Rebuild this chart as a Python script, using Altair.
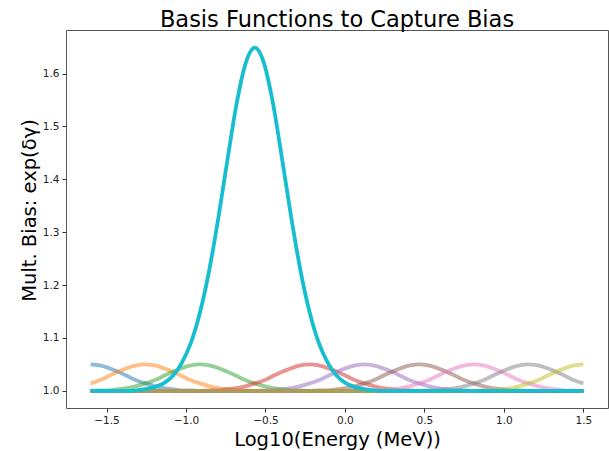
import altair as alt
import pandas as pd

# Centres of the basis functions, in drawing order
CENTERS = [-1.600, -1.256, -0.911, -0.222, 0.122, 0.467, 0.811, 1.156, 1.500, -0.567]
SERIES = ["b0", "b1", "b2", "b3", "b4", "b5", "b6", "b7", "b8", "b9"]
COLORS = ["#1f77b4", "#ff7f0e", "#2ca02c", "#d62728", "#9467bd",
          "#8c564b", "#e377c2", "#7f7f7f", "#bcbd22", "#17becf"]
BIG = "b9"

# half-profiles (value at offset k*STEP from the centre)
STEP = 0.0574
SMALL_HALF = [1.050, 1.048, 1.043, 1.036, 1.028, 1.020, 1.014, 1.009,
              1.005, 1.003, 1.001, 1.001, 1.000, 1.000, 1.000, 1.000]
BIG_HALF = [1.649, 1.620, 1.543, 1.437, 1.327, 1.228, 1.149, 1.091,
            1.053, 1.028, 1.014, 1.007, 1.003, 1.001, 1.000, 1.000]

X_MIN, X_MAX = -1.6, 1.5
X_TICKS = [-1.5, -1.0, -0.5, 0.0, 0.5, 1.0, 1.5]
Y_TICKS = [1.0, 1.1, 1.2, 1.3, 1.4, 1.5, 1.6]

rows = []
for s, c in zip(SERIES, CENTERS):
    prof = BIG_HALF if s == BIG else SMALL_HALF
    n = len(prof) - 1
    pts = []
    for k in range(-n, n + 1):
        x = c + k * STEP
        if x < X_MIN - 0.006 or x > X_MAX + 0.006:
            continue
        x = min(max(x, X_MIN), X_MAX)
        pts.append((x, prof[abs(k)]))
    if pts[0][0] > X_MIN + 1e-9:
        pts.insert(0, (X_MIN, 1.0))
    if pts[-1][0] < X_MAX - 1e-9:
        pts.append((X_MAX, 1.0))
    for x, y in pts:
        rows.append({"series": s, "x": x, "y": y})

df = pd.DataFrame(rows)
df_small = df[df.series != BIG]
df_big = df[df.series == BIG]

xs = alt.X("x:Q", scale=alt.Scale(domain=[-1.755, 1.655], nice=False, zero=False),
           axis=alt.Axis(values=X_TICKS,
                         labelExpr="replace(format(datum.value, '.1f'), '-', '\u2212')",
                         title="Log10(Energy (MeV))", titleY=37,
                         titleBaseline="alphabetic"))
ys = alt.Y("y:Q", scale=alt.Scale(domain=[0.9675, 1.6825], nice=False, zero=False),
           axis=alt.Axis(values=Y_TICKS, format=".1f",
                         title="Mult. Bias: exp(\u03b4\u03b3)", titleX=-31, titleY=180,
                         titleAngle=-90, titleBaseline="alphabetic", titleAlign="center"))
col = alt.Color("series:N", scale=alt.Scale(domain=SERIES, range=COLORS), legend=None)

small = alt.Chart(df_small).mark_line(strokeWidth=3.8, opacity=0.5, interpolate="monotone").encode(
    x=xs, y=ys, color=col, detail="series:N")
big = alt.Chart(df_big).mark_line(strokeWidth=3.8, opacity=1.0, interpolate="monotone").encode(
    x=xs, y=ys, color=col)

chart = alt.layer(small, big).properties(
    width=542, height=378,
    background="white",
    autosize=alt.AutoSizeParams(type="none"),
    padding={"left": 66, "top": 30, "right": 1, "bottom": 43},
    title=alt.TitleParams("Basis Functions to Capture Bias", fontSize=22.5,
                          font="DejaVu Sans", fontWeight="normal", color="black",
                          anchor="middle", baseline="alphabetic", offset=6, dy=25),
).configure_view(stroke="#555", strokeWidth=1).configure_axis(
    grid=False, domain=False, tickSize=4, tickColor="#333",
    labelFont="DejaVu Sans", labelFontSize=10.5, labelColor="#222", labelPadding=3,
    titleFont="DejaVu Sans", titleFontSize=19.5, titleFontWeight="normal", titleColor="black",
)

chart.save("out.html", embed_options={"renderer": "svg", "actions": False})
